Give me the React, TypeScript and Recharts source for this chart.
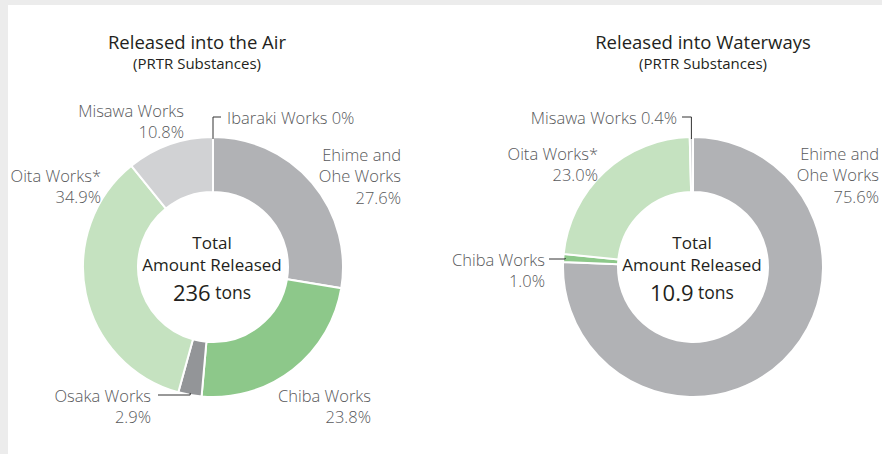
import { PieChart, Pie, Cell } from "recharts";

// Released into the air (PRTR substances), share of total by works
const airWorks = [
  "Ibaraki Works",
  "Ehime and\nOhe Works",
  "Chiba Works",
  "Osaka Works",
  "Oita Works*",
  "Misawa Works",
];
const airShares = [0, 27.6, 23.8, 2.9, 34.9, 10.8];
const airTotal = "236";

// Released into waterways (PRTR substances)
const waterWorks = [
  "Ehime and\nOhe Works",
  "Chiba Works",
  "Oita Works*",
  "Misawa Works",
];
const waterShares = [75.6, 1.0, 23.0, 0.4];
const waterTotal = "10.9";

const airData = airWorks.map((name, i) => ({ name, value: airShares[i] }));
const waterData = waterWorks.map((name, i) => ({ name, value: waterShares[i] }));

const COLORS: Record<string, string> = {
  "Ibaraki Works": "#939598",
  "Ehime and\nOhe Works": "#b1b2b5",
  "Chiba Works": "#8dc88a",
  "Osaka Works": "#939598",
  "Oita Works*": "#c5e2c0",
  "Misawa Works": "#d1d2d4",
};

const FONT = "'Open Sans', 'Noto Sans', sans-serif";
const LABEL_COLOR = "#58595b";
const DARK = "#231f20";
const LINE_H = 21.5;
const RAD = Math.PI / 180;

// where each label sits; inline = name and % on one line, leadX = end of leader line
type Place = { x: number; y: number; anchor: "start" | "end"; inline?: boolean; leadX?: number };

const airPlaces: Record<string, Place> = {
  "Ibaraki Works": { x: 227, y: 117, anchor: "start", inline: true, leadX: 221 },
  "Ehime and\nOhe Works": { x: 401, y: 154, anchor: "end" },
  "Chiba Works": { x: 371, y: 395, anchor: "end" },
  "Osaka Works": { x: 151, y: 395, anchor: "end", leadX: 158 },
  "Oita Works*": { x: 101, y: 175, anchor: "end" },
  "Misawa Works": { x: 184, y: 110, anchor: "end" },
};

const waterPlaces: Record<string, Place> = {
  "Ehime and\nOhe Works": { x: 879, y: 153, anchor: "end" },
  "Chiba Works": { x: 545, y: 259, anchor: "end", leadX: 549 },
  "Oita Works*": { x: 598, y: 153, anchor: "end" },
  "Misawa Works": { x: 677, y: 117, anchor: "end", inline: true, leadX: 682 },
};

const pct = (v: number) => `${v === 0 ? 0 : v.toFixed(1)}%`;

const makeLabel = (places: Record<string, Place>) => (props: any) => {
  const { cx, cy, midAngle, outerRadius, payload, index } = props;
  const name: string = payload?.name ?? props.name;
  const value: number = payload?.value ?? props.value;
  const p = places[name];
  if (!p) return null;
  const lines = p.inline ? [`${name} ${pct(value)}`] : [...name.split("\n"), pct(value)];
  let leader = null;
  if (p.leadX !== undefined) {
    const r = outerRadius - 2;
    const ax = cx + r * Math.cos(-midAngle * RAD);
    const ay = cy + r * Math.sin(-midAngle * RAD);
    leader = (
      <path
        d={`M${ax},${ay} L${ax},${p.y} L${p.leadX},${p.y}`}
        fill="none"
        stroke="#333"
        strokeWidth={1}
      />
    );
  }
  return (
    <g key={`lbl-${index}`}>
      {leader}
      {lines.map((t, i) => (
        <text
          key={i}
          x={p.x}
          y={p.y + i * LINE_H}
          textAnchor={p.anchor}
          dominantBaseline="central"
          fill={LABEL_COLOR}
          fontSize={16.5}
          fontWeight={300}
          fontFamily={FONT}
        >
          {t}
        </text>
      ))}
    </g>
  );
};

const Title = ({ x, title }: { x: number; title: string }) => (
  <g fontFamily={FONT} fill={DARK} textAnchor="middle">
    <text x={x} y={41} fontSize={18.5} dominantBaseline="central">
      {title}
    </text>
    <text x={x} y={63} fontSize={15} dominantBaseline="central">
      (PRTR Substances)
    </text>
  </g>
);

const Center = ({ x, total }: { x: number; total: string }) => (
  <g fontFamily={FONT} fill={DARK} textAnchor="middle">
    <text x={x} y={242} fontSize={17} dominantBaseline="central">
      Total
    </text>
    <text x={x} y={264} fontSize={17} dominantBaseline="central">
      Amount Released
    </text>
    <text x={x} y={292} dominantBaseline="central">
      <tspan fontSize={22}>{total}</tspan>
      <tspan fontSize={17.5}> tons</tspan>
    </text>
  </g>
);

export default function App() {
  return (
    <div
      style={{
        position: "absolute",
        left: 0,
        top: 0,
        width: 882,
        height: 454,
        background: "#ececec",
        overflow: "hidden",
      }}
    >
      <div
        style={{
          position: "absolute",
          left: 8,
          top: 5,
          right: 0,
          bottom: 0,
          background: "#ffffff",
        }}
      />
      <div style={{ position: "absolute", left: 0, top: 0 }}>
        <PieChart width={882} height={454} margin={{ top: 0, right: 0, bottom: 0, left: 0 }}>
          <Pie
            data={airData}
            dataKey="value"
            nameKey="name"
            cx={213}
            cy={267}
            innerRadius={75}
            outerRadius={130}
            startAngle={90}
            endAngle={-270}
            stroke="#ffffff"
            strokeWidth={2}
            label={makeLabel(airPlaces)}
            labelLine={false}
            isAnimationActive={false}
          >
            {airData.map((d, i) => (
              <Cell key={i} fill={COLORS[d.name]} />
            ))}
          </Pie>
          <Pie
            data={waterData}
            dataKey="value"
            nameKey="name"
            cx={693}
            cy={267}
            innerRadius={75}
            outerRadius={130}
            startAngle={90}
            endAngle={-270}
            stroke="#ffffff"
            strokeWidth={2}
            label={makeLabel(waterPlaces)}
            labelLine={false}
            isAnimationActive={false}
          >
            {waterData.map((d, i) => (
              <Cell key={i} fill={COLORS[d.name]} />
            ))}
          </Pie>
          <Title x={197} title="Released into the Air" />
          <Title x={703} title="Released into Waterways" />
          <Center x={212} total={airTotal} />
          <Center x={692} total={waterTotal} />
        </PieChart>
      </div>
    </div>
  );
}
